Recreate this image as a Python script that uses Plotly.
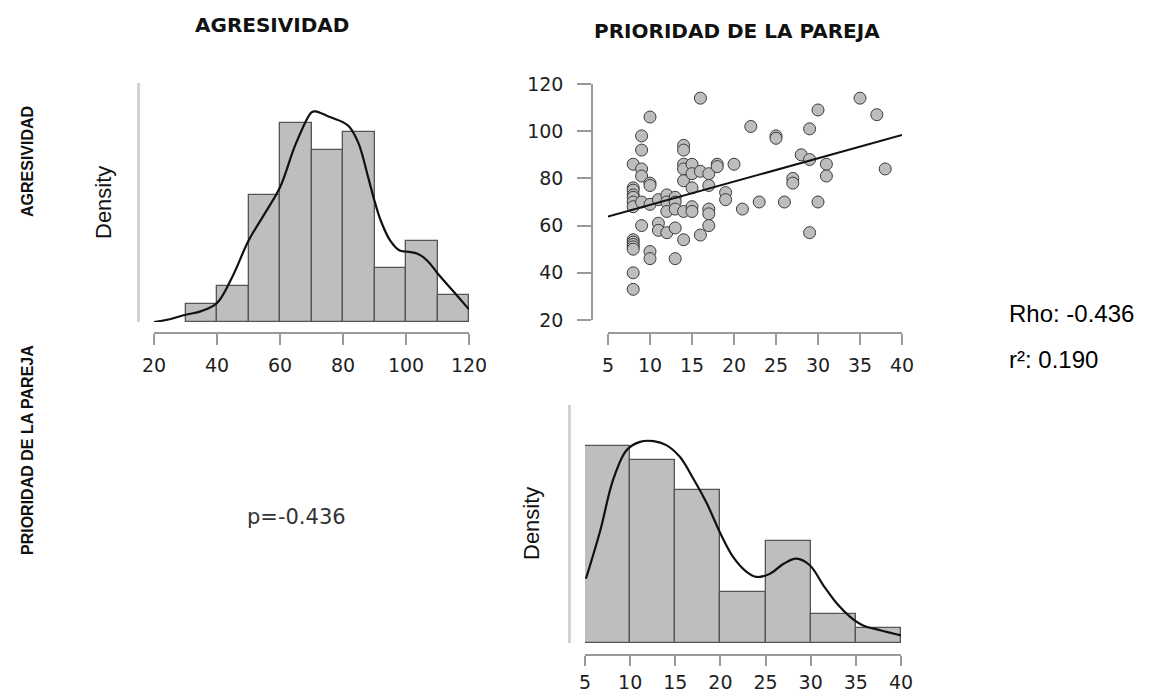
import plotly.graph_objects as go

# ---------------- data ----------------
# AGRESIVIDAD histogram (density per bin, bin width 10)
agr_bin_left = [30, 40, 50, 60, 70, 80, 90, 100, 110]
agr_bin_width = 10
agr_density = [0.002, 0.004, 0.014, 0.022, 0.019, 0.021, 0.006, 0.009, 0.003]

# AGRESIVIDAD kernel density curve
agr_kde_x = [20, 25, 30, 35, 40, 45, 50, 55, 60, 65, 70, 71.3, 75, 80, 82, 85, 88,
             90, 92, 95, 98, 100, 104, 107, 110, 115, 120]
agr_kde_y = [0.0000, 0.0003, 0.0008, 0.0012, 0.0021, 0.0051, 0.0090, 0.0119, 0.0149,
             0.0197, 0.0232, 0.0233, 0.0228, 0.0221, 0.0216, 0.0197, 0.0160, 0.0134,
             0.0112, 0.0090, 0.0079, 0.0078, 0.0075, 0.0067, 0.0054, 0.0034, 0.0014]

# PRIORIDAD DE LA PAREJA histogram (density per bin, bin width 5)
pri_bin_left = [5, 10, 15, 20, 25, 30, 35]
pri_bin_width = 5
pri_density = [0.054, 0.050, 0.042, 0.014, 0.028, 0.008, 0.004]

# PRIORIDAD DE LA PAREJA kernel density curve
pri_kde_x = [5.1, 6.7, 8.1, 9.6, 11.1, 12.6, 14.0, 15.5, 17.0, 18.5, 20.0, 21.4, 22.9,
             24.0, 25.5, 27.0, 28.4, 29.9, 31.4, 32.9, 34.4, 35.8, 37.7, 40.0]
pri_kde_y = [0.0176, 0.0309, 0.0446, 0.0528, 0.0551, 0.0553, 0.0542, 0.0510, 0.0450,
             0.0382, 0.0300, 0.0236, 0.0195, 0.0181, 0.0190, 0.0217, 0.0231, 0.0213,
             0.0158, 0.0108, 0.0071, 0.0048, 0.0035, 0.0021]

# scatter: PRIORIDAD (x) vs AGRESIVIDAD (y)
sc_x = ([8] * 14 + [9] * 6 + [10] * 6 + [11] * 3 + [12] * 4 + [13] * 5 + [14] * 7 +
        [15] * 5 + [16] * 3 + [17] * 5 + [18] * 2 + [19] * 2 + [20, 21, 22, 23, 25, 25,
        26, 27, 27, 28, 29, 29, 29, 30, 30, 31, 31, 35, 37, 38])
sc_y = [86, 76, 75, 73, 72, 70, 68, 54, 53, 52, 51, 50, 40, 33,
        98, 92, 84, 81, 70, 60,
        106, 78, 77, 69, 49, 46,
        71, 61, 58,
        73, 70, 66, 57,
        72, 70, 67, 59, 46,
        94, 92, 86, 84, 79, 66, 54,
        86, 82, 76, 68, 66,
        114, 83, 56,
        82, 77, 67, 65, 60,
        86, 85,
        74, 71,
        86, 67, 102, 70, 98, 97, 70, 80, 78, 90, 101, 88, 57, 109, 70, 86, 81, 114, 107, 84]

# fitted line endpoints
fit_x = [5, 40]
fit_y = [63.8, 98.4]

agr_ticks = [20, 40, 60, 80, 100, 120]
pri_ticks = [5, 10, 15, 20, 25, 30, 35, 40]
sc_y_ticks = [20, 40, 60, 80, 100, 120]

# ---------------- figure ----------------
# The page body has an 8px margin, so the figure is drawn 8px in from the corner.
OFF = 8
W, H = 1153 - OFF, 695 - OFF


def px(x):
    return (x - OFF) / W


def py(y):
    return 1 - (y - OFF) / H


BAR_FILL = "#bebebe"
BAR_LINE = "#555555"
AX_COL = "#9a9a9a"
YLINE_COL = "#d4d4d4"
TICKFONT = dict(family="DejaVu Sans, Verdana, sans-serif", size=19, color="#1f1f1f")

fig = go.Figure()

# top-left histogram
fig.add_trace(go.Bar(
    x=[l + agr_bin_width / 2 for l in agr_bin_left], y=agr_density, width=agr_bin_width,
    marker=dict(color=BAR_FILL, line=dict(color=BAR_LINE, width=1.3)),
    xaxis="x", yaxis="y", showlegend=False))
fig.add_trace(go.Scatter(
    x=agr_kde_x, y=agr_kde_y, mode="lines",
    line=dict(color="#111111", width=2.2, shape="spline"),
    xaxis="x", yaxis="y", showlegend=False))

# top-right scatter
fig.add_trace(go.Scatter(
    x=sc_x, y=sc_y, mode="markers",
    marker=dict(size=12, color="#bdbdbd", line=dict(color="#3c3c3c", width=1)),
    xaxis="x2", yaxis="y2", showlegend=False, cliponaxis=False))
fig.add_trace(go.Scatter(
    x=fit_x, y=fit_y, mode="lines", line=dict(color="#111111", width=2),
    xaxis="x2", yaxis="y2", showlegend=False))

# bottom-right histogram
fig.add_trace(go.Bar(
    x=[l + pri_bin_width / 2 for l in pri_bin_left], y=pri_density, width=pri_bin_width,
    marker=dict(color=BAR_FILL, line=dict(color=BAR_LINE, width=1.3)),
    xaxis="x3", yaxis="y3", showlegend=False))
fig.add_trace(go.Scatter(
    x=pri_kde_x, y=pri_kde_y, mode="lines",
    line=dict(color="#111111", width=2.2, shape="spline"),
    xaxis="x3", yaxis="y3", showlegend=False))


def xax(dom, rng, pos, ticks, standoff=4, ticklen=11):
    return dict(domain=dom, range=rng, anchor="free", position=pos,
                showline=True, linecolor=AX_COL, linewidth=1.5,
                ticks="outside", ticklen=ticklen, tickwidth=1.5, tickcolor=AX_COL,
                tickvals=ticks, ticktext=[str(t) for t in ticks],
                tickfont=TICKFONT, ticklabelstandoff=standoff, automargin=False,
                showgrid=False, zeroline=False, fixedrange=True)


def yhist(dom, rng, pos):
    return dict(domain=dom, range=rng, anchor="free", position=pos,
                showline=True, linecolor=YLINE_COL, linewidth=2.5,
                ticks="", showticklabels=False, automargin=False,
                showgrid=False, zeroline=False, fixedrange=True)


fig.update_layout(
    width=W, height=H,
    margin=dict(l=0, r=0, t=0, b=0, autoexpand=False),
    paper_bgcolor="white", plot_bgcolor="white",
    bargap=0, showlegend=False,
    xaxis=xax([px(154), px(469)], [20, 120], py(333), agr_ticks),
    yaxis=yhist([py(322), py(83)], [0, 0.02644], px(138)),
    xaxis2=xax([px(608), px(902)], [5, 40], py(333), pri_ticks),
    yaxis2=dict(domain=[py(320), py(84)], range=[20, 120], anchor="free", position=px(592),
                showline=True, linecolor=AX_COL, linewidth=1.5,
                ticks="outside", ticklen=14, tickwidth=1.5, tickcolor=AX_COL,
                tickvals=sc_y_ticks, tickfont=TICKFONT, ticklabelstandoff=10,
                automargin=False,
                showgrid=False, zeroline=False, fixedrange=True),
    xaxis3=xax([px(585), px(901)], [5, 40], py(655), pri_ticks, standoff=0, ticklen=10),
    yaxis3=yhist([py(643), py(405)], [0, 0.0652], px(569)),
)

TITLE_FONT = dict(family="DejaVu Sans, sans-serif", size=20, color="#111111", weight="bold")
ROW_FONT = dict(family="Liberation Sans, Arial, sans-serif", size=16, color="#111111", weight="bold")
DENS_FONT = dict(family="Liberation Sans, Arial, sans-serif", size=22, color="#111111")

ann = [
    dict(text="AGRESIVIDAD", x=px(272), y=py(25), font=TITLE_FONT),
    dict(text="PRIORIDAD DE LA PAREJA", x=px(737), y=py(31), font=TITLE_FONT),
    dict(text="AGRESIVIDAD", x=px(27), y=py(162), font=ROW_FONT, textangle=-90),
    dict(text="PRIORIDAD DE LA PAREJA", x=px(27), y=py(450), font=ROW_FONT, textangle=-90),
    dict(text="Density", x=px(103), y=py(203), font=DENS_FONT, textangle=-90),
    dict(text="Density", x=px(531), y=py(524), font=DENS_FONT, textangle=-90),
    dict(text="p=-0.436", x=px(296), y=py(517),
         font=dict(family="DejaVu Sans, sans-serif", size=21, color="#333333")),
    dict(text="Rho: -0.436", x=px(1007), y=py(314), xanchor="left",
         font=dict(family="Liberation Sans, Arial, sans-serif", size=24, color="#000000")),
    dict(text="r²: 0.190", x=px(1007), y=py(359), xanchor="left",
         font=dict(family="Liberation Sans, Arial, sans-serif", size=24, color="#000000")),
]
for a in ann:
    a.setdefault("xanchor", "center")
    a.update(xref="paper", yref="paper", yanchor="middle", showarrow=False)
fig.update_layout(annotations=ann)

fig.write_html("out.html", config={"displayModeBar": False})
